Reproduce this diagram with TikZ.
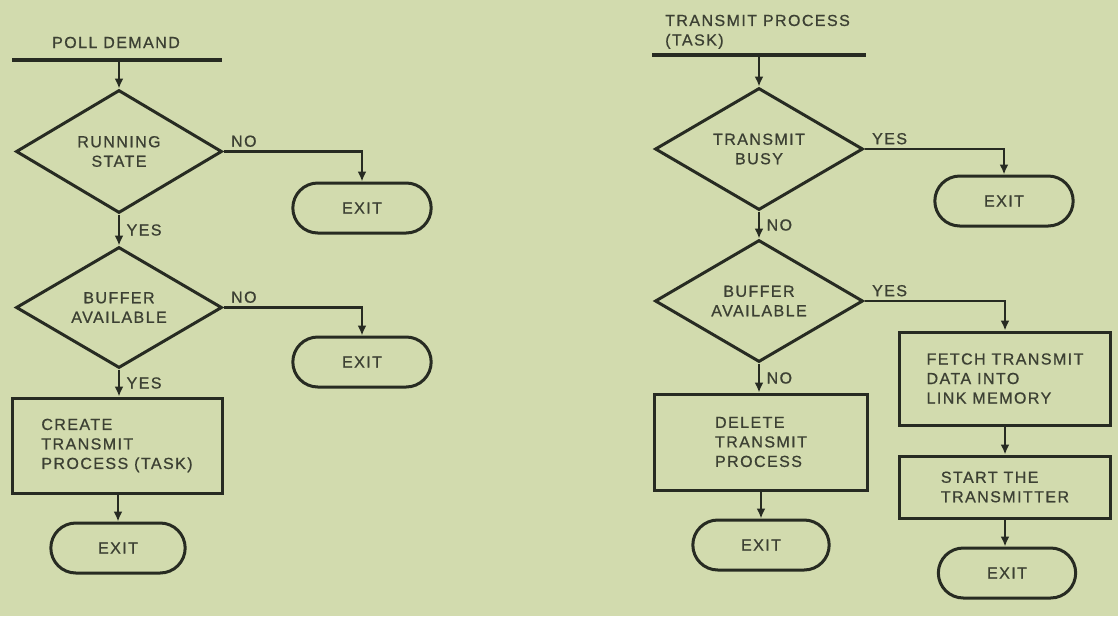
\documentclass[tikz,border=0pt]{standalone}
\usepackage{fontspec}
\setmainfont{Liberation Sans}[LetterSpace=9, FakeBold=0.8]
\usetikzlibrary{shapes.geometric,shapes.misc,arrows.meta}
\definecolor{paper}{HTML}{D2DBAE}
\definecolor{ink}{HTML}{272B22}
\definecolor{inktext}{HTML}{3C4033}
\tikzset{
    flow/.style={draw=ink, line width=3pt},
    decision/.style={flow, diamond, aspect=1.66, minimum width=206pt, minimum height=123pt, inner sep=0pt, align=center},
    process/.style={flow, rectangle, align=left, inner sep=0pt},
    terminal/.style={flow, rounded rectangle, minimum width=145pt, minimum height=50pt},
    link/.style={draw=ink, line width=2.6pt, -{Latex[length=10pt,width=9pt]}},
    bar/.style={draw=ink, line width=3.2pt},
}
\begin{document}
\begin{tikzpicture}[x=1pt, y=-1pt, every node/.style={text=inktext, font=\fontsize{16}{19.5}\selectfont}]
        \fill[paper] (0,0) rectangle (1118,616);
        \useasboundingbox (0,0) rectangle (1118,616);

        % poll demand
        \node[anchor=base] (polltitle) at (116,48) {POLL DEMAND};
        \draw[bar] (12,60) -- (222,60);
        \coordinate (poll) at (119,60);
        \node[decision] (running) at (119,151.5) {RUNNING\\STATE};
        \node[decision, minimum height=121pt] (bufferA) at (119,307.5) {BUFFER\\AVAILABLE};
        \node[process, minimum width=210pt, minimum height=95pt] (create) at (117,445.5) {CREATE\\TRANSMIT\\PROCESS (TASK)};
        \node[terminal, minimum width=141pt] (exitA) at (118,548) {EXIT};
        \node[terminal] (exitB) at (362,208) {EXIT};
        \node[terminal] (exitC) at (362,362) {EXIT};

        \draw[link] (poll) -- (running.north);
        \draw[link] (running.east) node[above right, xshift=3pt] {NO} -| (exitB.north);
        \draw[link] (running.south) -- node[right, xshift=3pt] {YES} (bufferA.north);
        \draw[link] (bufferA.east) node[above right, xshift=3pt] {NO} -| (exitC.north);
        \draw[link] (bufferA.south) -- node[right, xshift=3pt] {YES} (bufferA.south |- create.north);
        \draw[link] (create.south -| exitA) -- (exitA.north);

        % transmit process
        \node[anchor=south west, align=left, inner sep=0pt] (tasktitle) at (665,49) {TRANSMIT PROCESS\\(TASK)};
        \draw[bar] (652,55) -- (866,55);
        \coordinate (task) at (759,55);
        \node[decision, minimum width=208pt, minimum height=122pt] (busy) at (759,149) {TRANSMIT\\BUSY};
        \node[decision, minimum width=208pt, minimum height=122pt] (bufferB) at (759,301) {BUFFER\\AVAILABLE};
        \node[process, minimum width=213pt, minimum height=96pt] (delete) at (761,442) {DELETE\\TRANSMIT\\PROCESS};
        \node[terminal, minimum width=143pt] (exitD) at (761,545) {EXIT};
        \node[terminal] (exitE) at (1004,201) {EXIT};
        \node[process, minimum width=211pt, minimum height=93pt] (fetch) at (1005,378.5) {FETCH TRANSMIT\\DATA INTO\\LINK MEMORY};
        \node[process, minimum width=211pt, minimum height=62pt] (start) at (1005,487) {START THE\\TRANSMITTER};
        \node[terminal, minimum width=144pt] (exitF) at (1007,573) {EXIT};

        \draw[link] (task) -- (busy.north);
        \draw[link] (busy.east) node[above right, xshift=3pt] {YES} -| (exitE.north);
        \draw[link] (busy.south) -- node[right, xshift=3pt] {NO} (bufferB.north);
        \draw[link] (bufferB.east) node[above right, xshift=3pt] {YES} -| (fetch.north);
        \draw[link] (bufferB.south) -- node[right, xshift=3pt] {NO} (bufferB.south |- delete.north);
        \draw[link] (delete.south -| exitD) -- (exitD.north);
        \draw[link] (fetch.south) -- (start.north);
        \draw[link] (start.south) -- (start.south |- exitF.north);
\end{tikzpicture}
\end{document}
